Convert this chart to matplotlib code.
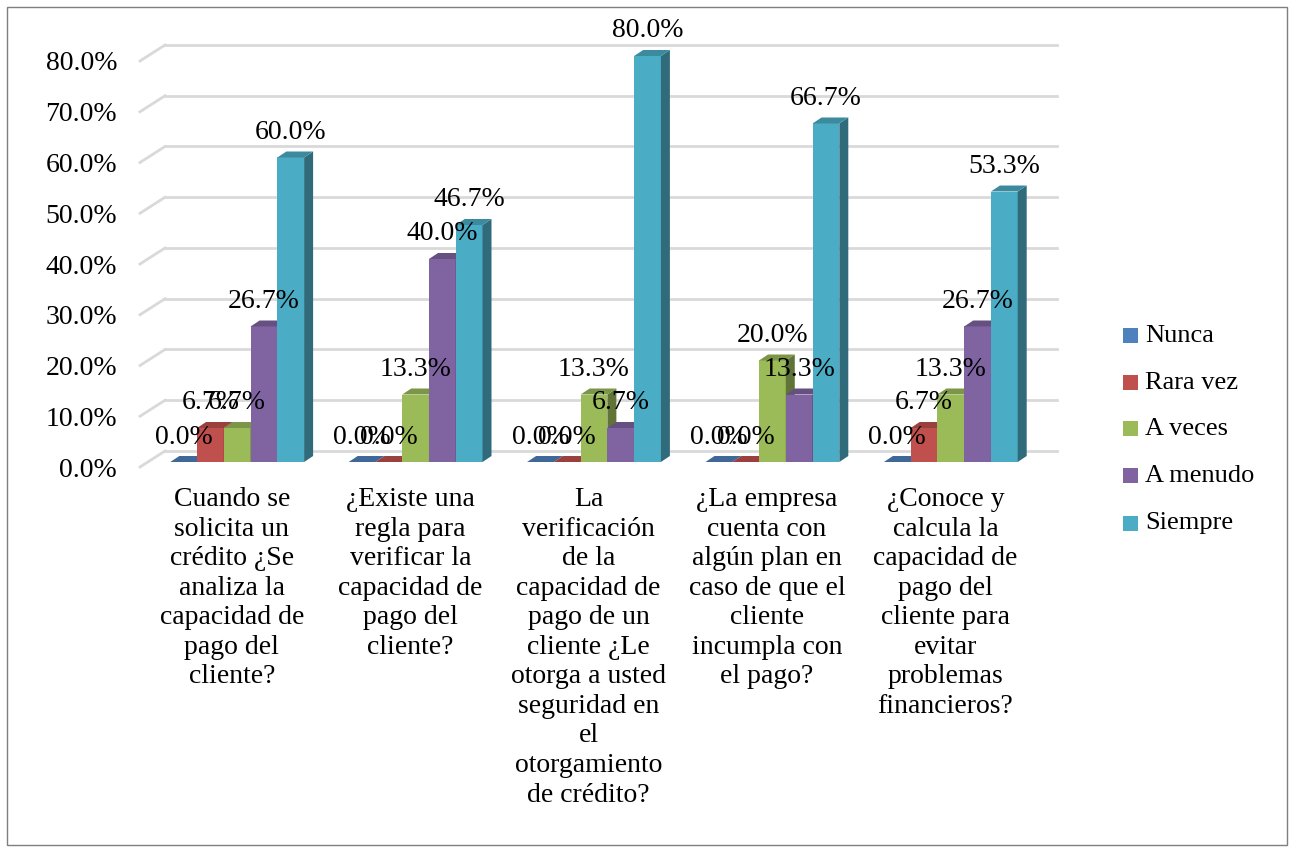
import numpy as np
import matplotlib.pyplot as plt
from matplotlib.patches import Polygon, Rectangle
from matplotlib.colors import to_rgb

plt.rcParams['font.family'] = ['Liberation Serif', 'DejaVu Serif']

# data (percent)
categories = [
    "Cuando se\nsolicita un\ncrédito ¿Se\nanaliza la\ncapacidad de\npago del\ncliente?",
    "¿Existe una\nregla para\nverificar la\ncapacidad de\npago del\ncliente?",
    "La\nverificación\nde la\ncapacidad de\npago de un\ncliente ¿Le\notorga a usted\nseguridad en\nel\notorgamiento\nde crédito?",
    "¿La empresa\ncuenta con\nalgún plan en\ncaso de que el\ncliente\nincumpla con\nel pago?",
    "¿Conoce y\ncalcula la\ncapacidad de\npago del\ncliente para\nevitar\nproblemas\nfinancieros?",
]
series = ["Nunca", "Rara vez", "A veces", "A menudo", "Siempre"]
nunca = [0.0, 0.0, 0.0, 0.0, 0.0]
rara_vez = [6.7, 0.0, 0.0, 0.0, 6.7]
a_veces = [6.7, 13.3, 13.3, 20.0, 13.3]
a_menudo = [26.7, 40.0, 6.7, 13.3, 26.7]
siempre = [60.0, 46.7, 80.0, 66.7, 53.3]
values = [nunca, rara_vez, a_veces, a_menudo, siempre]
colors = ['#4F81BD', '#C0504D', '#9BBB59', '#8064A2', '#4BACC6']
yticks = np.arange(0, 81, 10)

W, H = 1292, 847
fig = plt.figure(figsize=(W / 100, H / 100), dpi=100)
# plot frame in pixels: front floor x 140..1032, y(0)=467, y(80)=61
ax = fig.add_axes([140 / W, (H - 467) / H, 892 / W, 406 / H])
ax.set_xlim(-0.5, 4.5)
ax.set_ylim(0, 80)
ux = 892 / 5.0   # px per x unit
uy = 406 / 80.0  # px per y unit

def px(dx, dy):
    return dx / ux, dy / uy

# back wall gridlines + left diagonals
gdx, gdy = px(25, 16)
for v in yticks:
    ax.plot([-0.5 + gdx, 4.5 + gdx], [v + gdy, v + gdy], color='#D9D9D9', lw=2, zorder=0, clip_on=False)
    ax.plot([-0.5, -0.5 + gdx], [v, v + gdy], color='#D9D9D9', lw=2, zorder=0, clip_on=False)

# bars with pseudo-3D faces
bw = 0.15
bx, by = px(8, 5)        # bar placement inside depth
ddx, ddy = px(9, 6)      # bar depth
z = 2
for i in range(len(categories)):
    for j, (vals, c) in enumerate(zip(values, colors)):
        h = vals[i]
        x0 = i - 0.375 + j * bw + bx
        x1 = x0 + bw
        y0 = by
        y1 = h + by
        base = np.array(to_rgb(c))
        top_c = base * 0.8
        side_c = base * 0.62
        if h > 0:
            ax.add_patch(Rectangle((x0, y0), bw, h, facecolor=c, edgecolor='none', zorder=z, clip_on=False))
            ax.add_patch(Polygon([(x1, y0), (x1 + ddx, y0 + ddy), (x1 + ddx, y1 + ddy), (x1, y1)],
                                 closed=True, facecolor=side_c, edgecolor='none', zorder=z, clip_on=False))
        ax.add_patch(Polygon([(x0, y1), (x1, y1), (x1 + ddx, y1 + ddy), (x0 + ddx, y1 + ddy)],
                             closed=True, facecolor=top_c, edgecolor='none', zorder=z, clip_on=False))
        z += 1

# data labels
lab_off = px(0, 25)[1]
for i in range(len(categories)):
    for j, vals in enumerate(values):
        h = vals[i]
        xc = i - 0.375 + (j + 0.5) * bw + bx
        ax.text(xc, h + by + lab_off, f"{h:.1f}%", ha='center', va='center',
                fontsize=20, color='black', zorder=100, clip_on=False)

# category labels
for i, lab in enumerate(categories):
    ax.text(i + 0.015, -px(0, 20)[1], lab, ha='center', va='top', fontsize=20,
            linespacing=1.24, multialignment='center', clip_on=False)

ax.set_xticks([])
ax.set_yticks(yticks)
ax.set_yticklabels([f"{v:.1f}%" for v in yticks], fontsize=20)
ax.tick_params(axis='y', length=0, pad=16.5)
for s in ax.spines.values():
    s.set_visible(False)
ax.patch.set_visible(False)

# legend (manual)
leg_y = [336, 383, 429, 476, 523]
for name, c, yy in zip(series, colors, leg_y):
    fig.patches.append(Rectangle((1123 / W, (H - yy - 7.5) / H), 15 / W, 15 / H,
                                 facecolor=c, edgecolor='none', transform=fig.transFigure))
    fig.text(1145 / W, (H - yy) / H, name, ha='left', va='center', fontsize=19)

# outer border
fig.patches.append(Rectangle((7 / W, 2 / H), 1280 / W, 838 / H, fill=False,
                             edgecolor='#7F7F7F', lw=1, transform=fig.transFigure))

fig.savefig('out.png', dpi=100)
